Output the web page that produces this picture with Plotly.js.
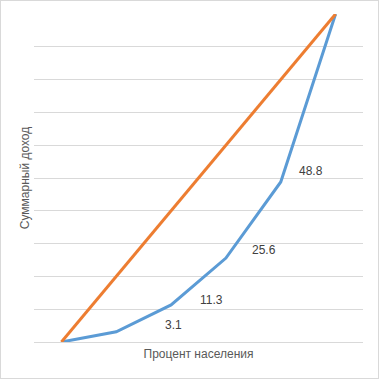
<!DOCTYPE html>
<html><head><meta charset="utf-8">
<script src="https://cdn.plot.ly/plotly-3.0.1.min.js"></script>
<style>html,body{margin:0;padding:0;background:#fff}#chart{width:379px;height:379px;box-sizing:border-box;border:1px solid #d9d9d9}</style>
</head><body><div id="chart"></div>
<script>
const categories = ["0", "20", "40", "60", "80", "100"];
const lorenz = [0, 3.1, 11.3, 25.6, 48.8, 100];
const equality = [0, 20, 40, 60, 80, 100];
const labelValues = [3.1, 11.3, 25.6, 48.8];
const xTitle = "Процент населения";
const yTitle = "Суммарный доход";

const idx = categories.map((c, i) => i);
// label placement (pixel offsets from the data points)
const labelShift = [[57, 7], [40, 5], [38, 8], [30, 11]];
const annotations = labelValues.map((v, k) => {
  const i = lorenz.indexOf(v);
  return {x: i, y: v, xref: 'x', yref: 'y', text: String(v), showarrow: false,
    xshift: labelShift[k][0], yshift: labelShift[k][1],
    font: {family: 'Liberation Sans, Arial, sans-serif', size: 12, color: '#404040'}};
});

const traces = [
  {x: idx, y: lorenz, type: 'scatter', mode: 'lines', line: {color: '#5B9BD5', width: 3}, hoverinfo: 'none'},
  {x: idx, y: equality, type: 'scatter', mode: 'lines', line: {color: '#ED7D31', width: 3}, hoverinfo: 'none'}
];
const layout = {
  width: 377, height: 377,
  margin: {l: 33, r: 15, t: 13, b: 36},
  paper_bgcolor: '#fff', plot_bgcolor: '#fff',
  showlegend: false,
  font: {family: 'Liberation Sans, Arial, sans-serif', color: '#595959', size: 12},
  xaxis: {range: [-0.5, 5.5], showgrid: false, zeroline: false, showticklabels: false, ticks: '',
    showline: false, title: {text: xTitle, standoff: 7, font: {size: 12, color: '#595959'}}},
  yaxis: {range: [0, 100], dtick: 10, showgrid: true, gridcolor: '#D9D9D9', gridwidth: 1,
    zeroline: true, zerolinecolor: '#D9D9D9', zerolinewidth: 1, showticklabels: false, ticks: '',
    showline: false, title: {text: yTitle, standoff: 0, font: {size: 12, color: '#595959'}}},
  annotations: annotations
};
Plotly.newPlot('chart', traces, layout, {staticPlot: true, displayModeBar: false});
</script></body></html>
